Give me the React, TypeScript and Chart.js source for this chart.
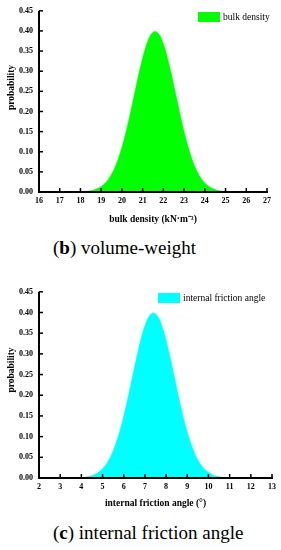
import React, { useEffect, useRef } from "react";
import { Chart, registerables } from "chart.js";

Chart.register(...registerables);

// ---- data ----
const bulkX = [18.1, 18.35, 18.6, 18.85, 19.1, 19.35, 19.6, 19.85, 20.1, 20.35, 20.6, 20.85, 21.1, 21.35, 21.6, 21.85, 22.1, 22.35, 22.6, 22.85, 23.1, 23.35, 23.6, 23.85, 24.1, 24.35, 24.6, 24.85, 25.1];
const bulkY = [0.0009, 0.002, 0.0044, 0.0091, 0.0175, 0.0317, 0.054, 0.0863, 0.1295, 0.1826, 0.242, 0.3011, 0.3521, 0.3867, 0.3989, 0.3867, 0.3521, 0.3011, 0.242, 0.1826, 0.1295, 0.0863, 0.054, 0.0317, 0.0175, 0.0091, 0.0044, 0.002, 0.0009];
const frictionX = [3.9, 4.15, 4.4, 4.65, 4.9, 5.15, 5.4, 5.65, 5.9, 6.15, 6.4, 6.65, 6.9, 7.15, 7.4, 7.65, 7.9, 8.15, 8.4, 8.65, 8.9, 9.15, 9.4, 9.65, 9.9, 10.15, 10.4, 10.65, 10.9];
const frictionY = [0.0009, 0.002, 0.0044, 0.0091, 0.0175, 0.0317, 0.054, 0.0863, 0.1295, 0.1826, 0.242, 0.3011, 0.3521, 0.3867, 0.3989, 0.3867, 0.3521, 0.3011, 0.242, 0.1826, 0.1295, 0.0863, 0.054, 0.0317, 0.0175, 0.0091, 0.0044, 0.002, 0.0009];
const probTicks = [0, 0.05, 0.1, 0.15, 0.2, 0.25, 0.3, 0.35, 0.4, 0.45];
const bulkTicks = [16, 17, 18, 19, 20, 21, 22, 23, 24, 25, 26, 27];
const frictionTicks = [2, 3, 4, 5, 6, 7, 8, 9, 10, 11, 12, 13];

const SERIF = '"Liberation Serif", "Times New Roman", serif';

const decor = {
  id: "decor",
  afterDraw(chart: any, _args: any, opts: any) {
    const ctx = chart.ctx;
    const xs = chart.scales.x;
    const ys = chart.scales.y;
    const left = ys.right;
    const bottom = xs.top;
    const top = ys.top;
    const right = xs.right;
    ctx.save();
    ctx.fillStyle = "#000";
    // axis lines as filled rects
    ctx.fillRect(left - 1, top, 2, bottom - top + 1);
    ctx.fillRect(left - 1, bottom - 1, right - left + 2, 2);
    // inside ticks
    xs.ticks.forEach((t: any) => {
      const p = xs.getPixelForValue(t.value);
      ctx.fillRect(p - 0.75, bottom - 4, 1.5, 4);
    });
    ys.ticks.forEach((t: any) => {
      const p = ys.getPixelForValue(t.value);
      ctx.fillRect(left, p - 0.75, 4, 1.5);
    });
    // legend
    const ds = chart.data.datasets[0];
    ctx.fillStyle = ds.backgroundColor;
    ctx.fillRect(opts.legX, opts.legY, 22, 10);
    ctx.fillStyle = "#000";
    ctx.font = `9.5px ${SERIF}`;
    ctx.textAlign = "left";
    ctx.textBaseline = "middle";
    ctx.fillText(ds.label, opts.legX + 25, opts.legY + 5.5);
    // y title
    ctx.translate(opts.yTitleX, opts.yTitleY);
    ctx.rotate(-Math.PI / 2);
    ctx.font = `bold 9.5px ${SERIF}`;
    ctx.textAlign = "center";
    ctx.fillText("probability", 0, 0);
    ctx.restore();
  },
};

type PanelProps = {
  top: number;
  height: number;
  rightPad: number;
  xs: number[];
  ys: number[];
  xTicks: number[];
  label: string;
  color: string;
  xTitle: string;
  titlePad: number;
  legX: number;
  legY: number;
  yTitleY: number;
};

function Panel(p: PanelProps) {
  const ref = useRef<HTMLCanvasElement>(null);
  useEffect(() => {
    const tickFont = { family: SERIF, size: 8, weight: "bold" as const };
    const chart = new Chart(ref.current as HTMLCanvasElement, {
      type: "line",
      data: {
        datasets: [
          {
            label: p.label,
            data: p.xs.map((x, i) => ({ x, y: p.ys[i] })),
            fill: "origin",
            backgroundColor: p.color,
            borderColor: p.color,
            borderWidth: 0.5,
            pointRadius: 0,
            cubicInterpolationMode: "monotone",
          },
        ],
      },
      options: {
        responsive: false,
        animation: false,
        layout: { padding: { top: 10, right: p.rightPad, left: 0, bottom: 0 } },
        plugins: {
          legend: { display: false },
          tooltip: { enabled: false },
          decor: { legX: p.legX, legY: p.legY, yTitleX: 11.5, yTitleY: p.yTitleY },
        } as any,
        scales: {
          x: {
            type: "linear",
            min: p.xTicks[0],
            max: p.xTicks[p.xTicks.length - 1],
            afterBuildTicks: (s: any) => {
              s.ticks = p.xTicks.map((v) => ({ value: v }));
            },
            afterFit: (s: any) => {
              s.height = 38;
            },
            ticks: { font: tickFont, color: "#000", padding: 4, maxRotation: 0, autoSkip: false },
            grid: { display: false, drawTicks: false, tickLength: 0 },
            border: { display: false },
            title: {
              display: true,
              text: p.xTitle,
              color: "#000",
              font: { family: SERIF, size: 9.5, weight: "bold" },
              padding: { top: 0, bottom: p.titlePad },
            },
          },
          y: {
            type: "linear",
            min: 0,
            max: 0.45,
            afterBuildTicks: (s: any) => {
              s.ticks = probTicks.map((v) => ({ value: v }));
            },
            afterFit: (s: any) => {
              s.width = 39;
            },
            ticks: {
              font: tickFont,
              color: "#000",
              padding: 6,
              autoSkip: false,
              callback: (v: any) => Number(v).toFixed(2),
            },
            grid: { display: false, drawTicks: false, tickLength: 0 },
            border: { display: false },
          },
        },
      },
      plugins: [decor],
    });
    return () => chart.destroy();
  }, []);
  return (
    <canvas
      ref={ref}
      width={281}
      height={p.height}
      style={{ position: "absolute", left: 0, top: p.top, width: 281, height: p.height }}
    />
  );
}

const captionStyle = (top: number): React.CSSProperties => ({
  position: "absolute",
  left: 53,
  top,
  fontFamily: SERIF,
  fontSize: 19,
  lineHeight: "20px",
  color: "#000",
  whiteSpace: "nowrap",
});

export default function App() {
  return (
    <div style={{ position: "absolute", left: 0, top: 0, width: 281, height: 550, background: "#fff" }}>
      <Panel
        top={0}
        height={230}
        rightPad={14}
        xs={bulkX}
        ys={bulkY}
        xTicks={bulkTicks}
        label="bulk density"
        color="#00ff00"
        xTitle="bulk density (kN·m⁻³)"
        titlePad={5}
        legX={198}
        legY={12}
        yTitleY={87.5}
      />
      <div style={captionStyle(238)}>
        (<b>b</b>) volume-weight
      </div>
      <Panel
        top={281}
        height={235}
        rightPad={9}
        xs={frictionX}
        ys={frictionY}
        xTicks={frictionTicks}
        label="internal friction angle"
        color="#00ffff"
        xTitle="internal friction angle (°)"
        titlePad={7}
        legX={158}
        legY={12}
        yTitleY={89}
      />
      <div style={captionStyle(523)}>
        (<b>c</b>) internal friction angle
      </div>
    </div>
  );
}
